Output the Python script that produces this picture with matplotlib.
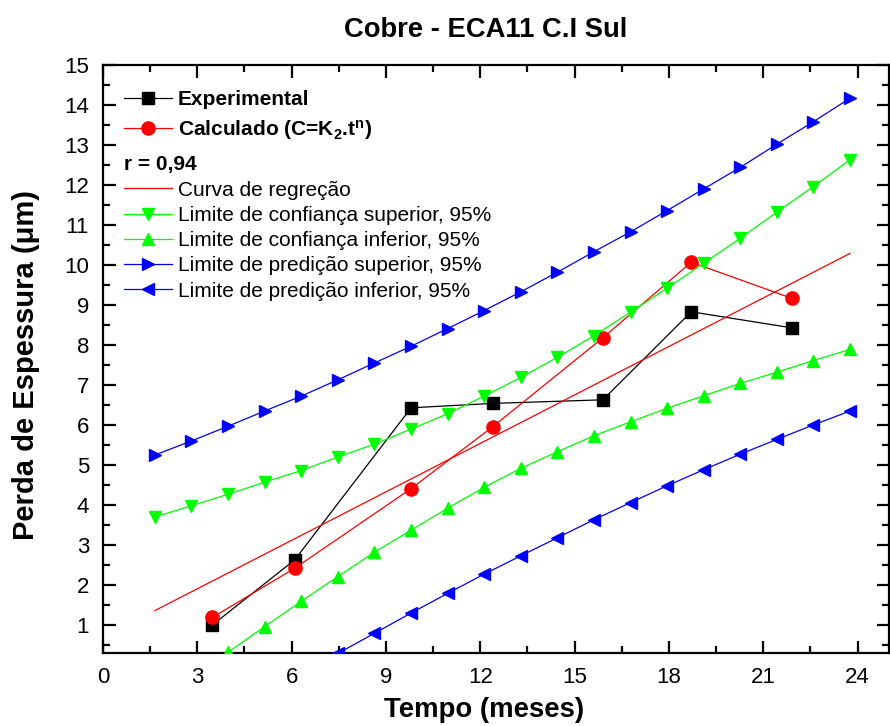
import matplotlib
matplotlib.use('Agg')
import matplotlib.pyplot as plt
import matplotlib.transforms as mtransforms
from matplotlib.lines import Line2D
from matplotlib.ticker import MultipleLocator

plt.rcParams['font.family'] = ['Liberation Sans', 'DejaVu Sans']
plt.rcParams['mathtext.fontset'] = 'custom'
plt.rcParams['mathtext.rm'] = 'Liberation Sans:bold'
plt.rcParams['mathtext.default'] = 'regular'

# measured points (meses, um)
t_exp = [3.48, 6.1, 9.8, 12.4, 15.9, 18.71, 21.9]
y_exp = [1.0, 2.63, 6.43, 6.54, 6.63, 8.83, 8.43]
y_calc = [1.19, 2.42, 4.41, 5.96, 8.18, 10.07, 9.17]

# regression line end points
t_reg = [1.65, 23.76]
y_reg = [1.36, 10.29]

# band abscissae (20 points)
t_band = [1.65, 2.81, 3.98, 5.14, 6.30, 7.47, 8.63, 9.80, 10.96, 12.12,
          13.29, 14.45, 15.61, 16.78, 17.94, 19.10, 20.27, 21.43, 22.59, 23.76]
conf_sup = [3.70, 3.98, 4.27, 4.57, 4.86, 5.20, 5.52, 5.90, 6.28, 6.72,
            7.19, 7.69, 8.23, 8.82, 9.42, 10.04, 10.67, 11.32, 11.96, 12.63]
conf_inf = [-1.00, -0.35, 0.32, 0.96, 1.59, 2.21, 2.82, 3.37, 3.92, 4.44,
            4.92, 5.33, 5.73, 6.08, 6.42, 6.73, 7.04, 7.32, 7.61, 7.89]
pred_sup = [5.25, 5.60, 5.97, 6.35, 6.72, 7.13, 7.55, 7.97, 8.41, 8.86,
            9.33, 9.82, 10.33, 10.83, 11.36, 11.90, 12.44, 13.02, 13.58, 14.17]
pred_inf = [-2.20, -1.70, -1.20, -0.70, -0.20, 0.29, 0.79, 1.30, 1.79, 2.27,
            2.73, 3.18, 3.63, 4.06, 4.48, 4.88, 5.27, 5.64, 6.00, 6.35]

fig = plt.figure(figsize=(8.9, 7.26), dpi=100)
ax = fig.add_axes([103 / 890, 1 - 653 / 726, 786 / 890, 588 / 726])

lw = 0.9
h_exp, = ax.plot(t_exp, y_exp, color='black', lw=lw, marker='s', ms=9, label='Experimental', zorder=3)
h_calc, = ax.plot(t_exp, y_calc, color='red', lw=lw, marker='o', ms=9.5, label='Calculado (C=K$_2$.t$^n$)', zorder=3)
h_r = Line2D([], [], color='none', label='r = 0,94')
h_reg, = ax.plot(t_reg, y_reg, color='red', lw=lw, label='Curva de regreção', zorder=4)
h_cs, = ax.plot(t_band, conf_sup, color='#00ff00', lw=lw, marker='v', ms=8.5,
                label='Limite de confiança superior, 95%', zorder=4)
h_ci, = ax.plot(t_band, conf_inf, color='#00ff00', lw=lw, marker='^', ms=8.5,
                label='Limite de confiança inferior, 95%', zorder=4)
h_ps, = ax.plot(t_band, pred_sup, color='#0000ff', lw=lw, marker='>', ms=8.5,
                label='Limite de predição superior, 95%', zorder=4)
h_pi, = ax.plot(t_band, pred_inf, color='#0000ff', lw=lw, marker='<', ms=8.5,
                label='Limite de predição inferior, 95%', zorder=4)

ax.set_xlim(0, 25)
ax.set_ylim(0.3, 15)
ax.xaxis.set_major_locator(MultipleLocator(3))
ax.xaxis.set_minor_locator(MultipleLocator(1.5))
ax.yaxis.set_major_locator(MultipleLocator(1))
ax.yaxis.set_minor_locator(MultipleLocator(0.5))
ax.tick_params(which='both', direction='in', top=True, right=True, width=1.6, labelsize=16, pad=10)
ax.tick_params(which='major', length=9)
ax.tick_params(which='minor', length=5)
for s in ax.spines.values():
    s.set_linewidth(1.6)

ax.set_xlabel('Tempo (meses)', fontsize=19.8, fontweight='bold')
ax.xaxis.set_label_coords((484.5 - 103) / 786, -0.075)
ax.set_ylabel('Perda de Espessura (μm)', fontsize=21, fontweight='bold')
ax.yaxis.set_label_coords(-0.08, (653 - 365) / 588)
fig.text(486 / 890, 1 - 30 / 726, 'Cobre - ECA11 C.I Sul', fontsize=19.7, fontweight='bold',
         ha='center', va='center')

fs = 15
hl, htp = 2.3, 0.3
handles = [h_exp, h_calc, h_r, h_reg, h_cs, h_ci, h_ps, h_pi]
leg = ax.legend(handles=handles, loc='upper left', bbox_to_anchor=(0, 1 - 4 / 588),
                frameon=False, fontsize=fs,
                handlelength=hl, handletextpad=htp, borderaxespad=0.5, borderpad=0.5,
                labelspacing=0.3)
texts = leg.get_texts()
for i in (0, 1, 2):
    texts[i].set_fontweight('bold')

# extra gap below the bold rows, as in the original legend
shift = (hl + htp) * fs * fig.dpi / 72
row_drop = [0, 3, 10, 10, 10, 10, 10, 10]
for i, (txt, hnd) in enumerate(zip(texts, leg.legend_handles)):
    dx = -shift if i == 2 else 0
    txt.set_transform(txt.get_transform() + mtransforms.Affine2D().translate(dx, -row_drop[i]))
    hnd.set_transform(hnd.get_transform() + mtransforms.Affine2D().translate(0, -row_drop[i]))

fig.savefig('out.png', dpi=100)
